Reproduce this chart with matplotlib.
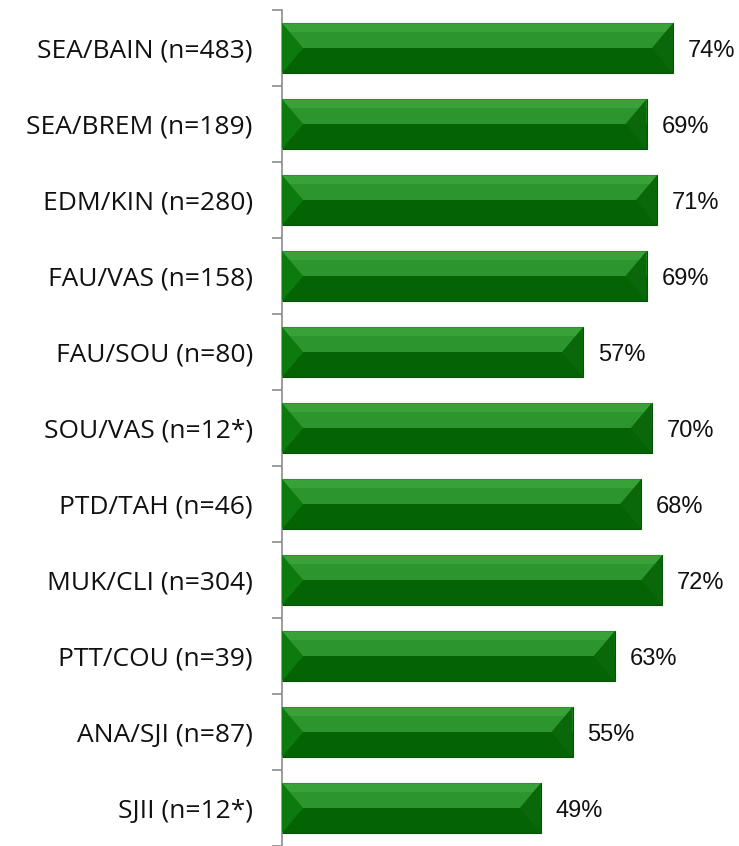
import matplotlib.pyplot as plt
from matplotlib.patches import Polygon

# datos (de arriba hacia abajo)
categorias = ["SEA/BAIN (n=483)", "SEA/BREM (n=189)", "EDM/KIN (n=280)",
              "FAU/VAS (n=158)", "FAU/SOU (n=80)", "SOU/VAS (n=12*)",
              "PTD/TAH (n=46)", "MUK/CLI (n=304)", "PTT/COU (n=39)",
              "ANA/SJI (n=87)", "SJII (n=12*)"]
valores = [74, 69, 71, 69, 57, 70, 68, 72, 63, 55, 49]

fig = plt.figure(figsize=(7.39, 8.46), dpi=100)
ax = fig.add_axes([0.3816, 0.0, 0.6184, 0.988])

alto = 0.66
h = alto / 2
bisel = 4.0
pos = list(range(len(valores)))

# barra base (mitad inferior oscura)
ax.barh(pos, valores, height=alto, color='#046404', edgecolor='#0a4f0a',
        linewidth=0.8, zorder=2)
# mitad superior mas clara
ax.barh([p - h / 2 for p in pos], valores, height=h, color='#2d952d',
        linewidth=0, zorder=3)
ax.barh([p - h * 0.8 for p in pos], valores, height=h * 0.35, color='#38a238',
        linewidth=0, zorder=3)

for p, v in zip(pos, valores):
    izq = Polygon([(0, p - h), (bisel, p), (0, p + h)], closed=True,
                  facecolor='#0c7a0c', edgecolor='none', zorder=4)
    der = Polygon([(v, p - h), (v - bisel, p), (v, p + h)], closed=True,
                  facecolor='#0a680a', edgecolor='none', zorder=4)
    ax.add_patch(izq)
    ax.add_patch(der)
    ax.text(v + 2.8, p + 0.04, f"{v}%", va='center', ha='left', fontsize=17,
            family=['Liberation Sans', 'DejaVu Sans'], color='#111111')

ax.set_xlim(0, 86.5)
ax.set_ylim(len(valores) - 0.5, -0.5)

ax.set_yticks(pos)
ax.set_yticklabels(categorias, fontsize=19, family=['Open Sans', 'DejaVu Sans'],
                   color='#111111')
ax.tick_params(axis='y', which='major', length=0, pad=21)
ax.set_yticks([p + 0.5 for p in range(-1, len(valores))], minor=True)
ax.tick_params(axis='y', which='minor', length=7, color='#8c8c8c', width=1.2)
ax.set_xticks([])

for lado in ['top', 'right', 'bottom']:
    ax.spines[lado].set_visible(False)
ax.spines['left'].set_color('#8c8c8c')
ax.spines['left'].set_linewidth(1.2)

plt.savefig("out.png", dpi=100)
plt.close()
